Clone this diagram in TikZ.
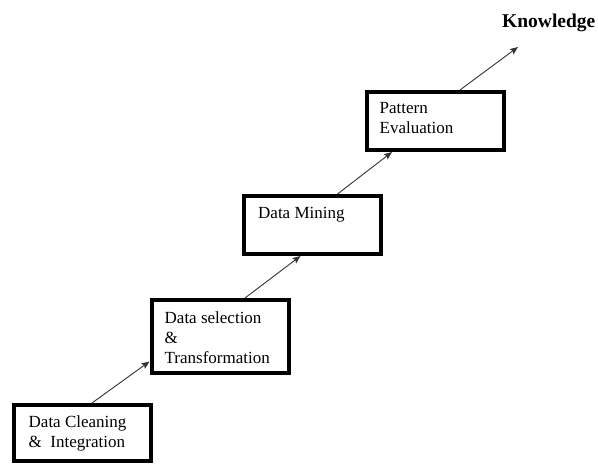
\documentclass[tikz,border=0pt]{standalone}
\usepackage{fontspec}
\setmainfont{Liberation Serif}
\usetikzlibrary{arrows.meta, positioning}

\begin{document}
\begin{tikzpicture}[x=1pt, y=-1pt,
    stage/.style={draw, rectangle, line width=4pt, minimum width=137pt, inner sep=0pt},
    stagetext/.style={anchor=north west, align=left, inner sep=0pt, font=\fontsize{17}{20}\selectfont},
    flow/.style={-{Stealth[length=8pt, width=6.5pt, inset=1.5pt]}, line width=0.9pt, black!80}]

    \useasboundingbox (0,0) rectangle (598,465);

    % =================================================================
    % 1. THE FOUR STAGE BOXES
    % =================================================================
    \node[stage, minimum height=56pt] (clean) at (82,433) {};
    \node[stage, minimum height=73pt] (select) at (220,336.5) {};
    \node[stage, minimum height=58pt] (mine) at (312.5,225) {};
    \node[stage, minimum height=58pt] (pattern) at (435,121) {};

    % texts in the upper left corner of each box
    \node[stagetext] (cleantext) at ([shift={(17pt,-13pt)}]clean.north west) {Data Cleaning\\\&\ \ Integration};
    \node[stagetext] (selecttext) at ([shift={(15pt,-14pt)}]select.north west) {Data selection\\\&\\Transformation};
    \node[stagetext] (minetext) at ([shift={(16pt,-13pt)}]mine.north west) {Data Mining};
    \node[stagetext] (patterntext) at ([shift={(15pt,-12pt)}]pattern.north west) {Pattern\\Evaluation};

    % =================================================================
    % 2. RESULT
    % =================================================================
    \node[anchor=base west, inner sep=0pt, font=\bfseries\fontsize{19.5}{22}\selectfont] (know) at (502,28) {Knowledge};
    \coordinate (knowtip) at (518,47);

    % =================================================================
    % 3. ARROWS BETWEEN THE STAGES
    % =================================================================
    \draw[flow] ([xshift=10pt]clean.north) -- ([yshift=-25pt]select.west);
    \draw[flow] ([xshift=25pt]select.north) -- ([xshift=-12pt]mine.south);
    \draw[flow] ([xshift=25pt]mine.north) -- ([xshift=-43pt]pattern.south);
    \draw[flow] ([xshift=25pt]pattern.north) -- (knowtip);

\end{tikzpicture}
\end{document}
